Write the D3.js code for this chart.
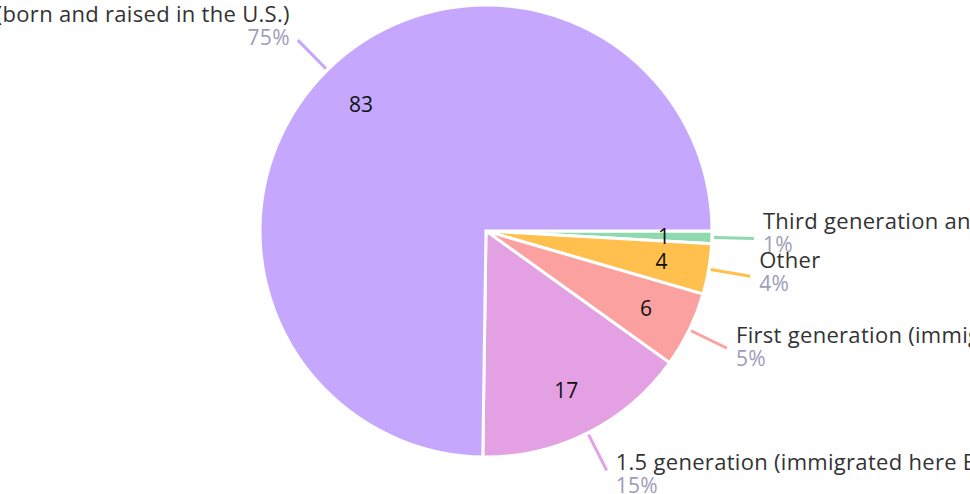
<!DOCTYPE html>
<html>
<head>
<meta charset="utf-8">
<script src="https://cdn.jsdelivr.net/npm/d3@7"></script>
<style>
  html, body { margin: 0; padding: 0; background: #fff; overflow: hidden; }
  svg { display: block; font-family: "Open Sans", Lato, sans-serif; }
</style>
</head>
<body>
<svg width="970" height="494"></svg>
<script>
const width = 970;
const height = 494;

// slices, clockwise from 3 o'clock
const categories = [
  "Third generation and beyond",
  "Other",
  "First generation (immigrated here as an adult)",
  "1.5 generation (immigrated here Before age 18)",
  "Second generation (born and raised in the U.S.)"
];
const values = [1, 4, 6, 17, 83];
const percents = ["1%", "4%", "5%", "15%", "75%"];
const colors = ["#8fd9b0", "#ffc04e", "#fba2a1", "#e3a0e3", "#c5a8fd"];

const cx = 486, cy = 231;
const radius = 226;

const pie = d3.pie()
  .value((d, i) => values[i])
  .sort(null)
  .startAngle(Math.PI / 2)
  .endAngle(Math.PI / 2 + 2 * Math.PI);

const arc = d3.arc().innerRadius(0).outerRadius(radius);
const labelArc = d3.arc().innerRadius(178).outerRadius(178);

const arcs = pie(categories);

const svg = d3.select("svg");
const g = svg.append("g").attr("transform", `translate(${cx},${cy})`);

g.selectAll("path.slice")
  .data(arcs)
  .join("path")
  .attr("class", "slice")
  .attr("d", arc)
  .attr("fill", (d, i) => colors[i])
  .attr("stroke", "#fff")
  .attr("stroke-width", 3)
  .attr("stroke-linejoin", "miter");

g.selectAll("text.value")
  .data(arcs)
  .join("text")
  .attr("class", "value")
  .attr("transform", d => `translate(${labelArc.centroid(d)})`)
  .attr("text-anchor", "middle")
  .attr("dy", "0.36em")
  .attr("font-size", 21)
  .attr("fill", "#111")
  .text((d, i) => values[i]);

const mid = d => (d.startAngle + d.endAngle) / 2;
const pt = (a, r) => [Math.sin(a) * r, -Math.cos(a) * r];

g.selectAll("line.leader")
  .data(arcs)
  .join("line")
  .attr("class", "leader")
  .attr("x1", d => pt(mid(d), radius + 2)[0])
  .attr("y1", d => pt(mid(d), radius + 2)[1])
  .attr("x2", d => pt(mid(d), radius + 42)[0])
  .attr("y2", d => pt(mid(d), radius + 42)[1])
  .attr("stroke", (d, i) => colors[i])
  .attr("stroke-width", 3);

const labels = g.selectAll("g.label")
  .data(arcs)
  .join("g")
  .attr("class", "label")
  .attr("transform", d => {
    const a = mid(d);
    const [x, y] = pt(a, radius + 42);
    const right = Math.sin(a) >= 0;
    return `translate(${x + (right ? 9 : -8)},${y - 10 - 11 * Math.cos(a)})`;
  })
  .attr("text-anchor", d => Math.sin(mid(d)) >= 0 ? "start" : "end")
  .attr("letter-spacing", 0.3);

labels.append("text")
  .attr("font-size", 22)
  .attr("fill", "#333")
  .text((d, i) => categories[i]);

labels.append("text")
  .attr("y", 23)
  .attr("font-size", 21)
  .attr("fill", "#9d9cb9")
  .text((d, i) => percents[i]);
</script>
</body>
</html>
